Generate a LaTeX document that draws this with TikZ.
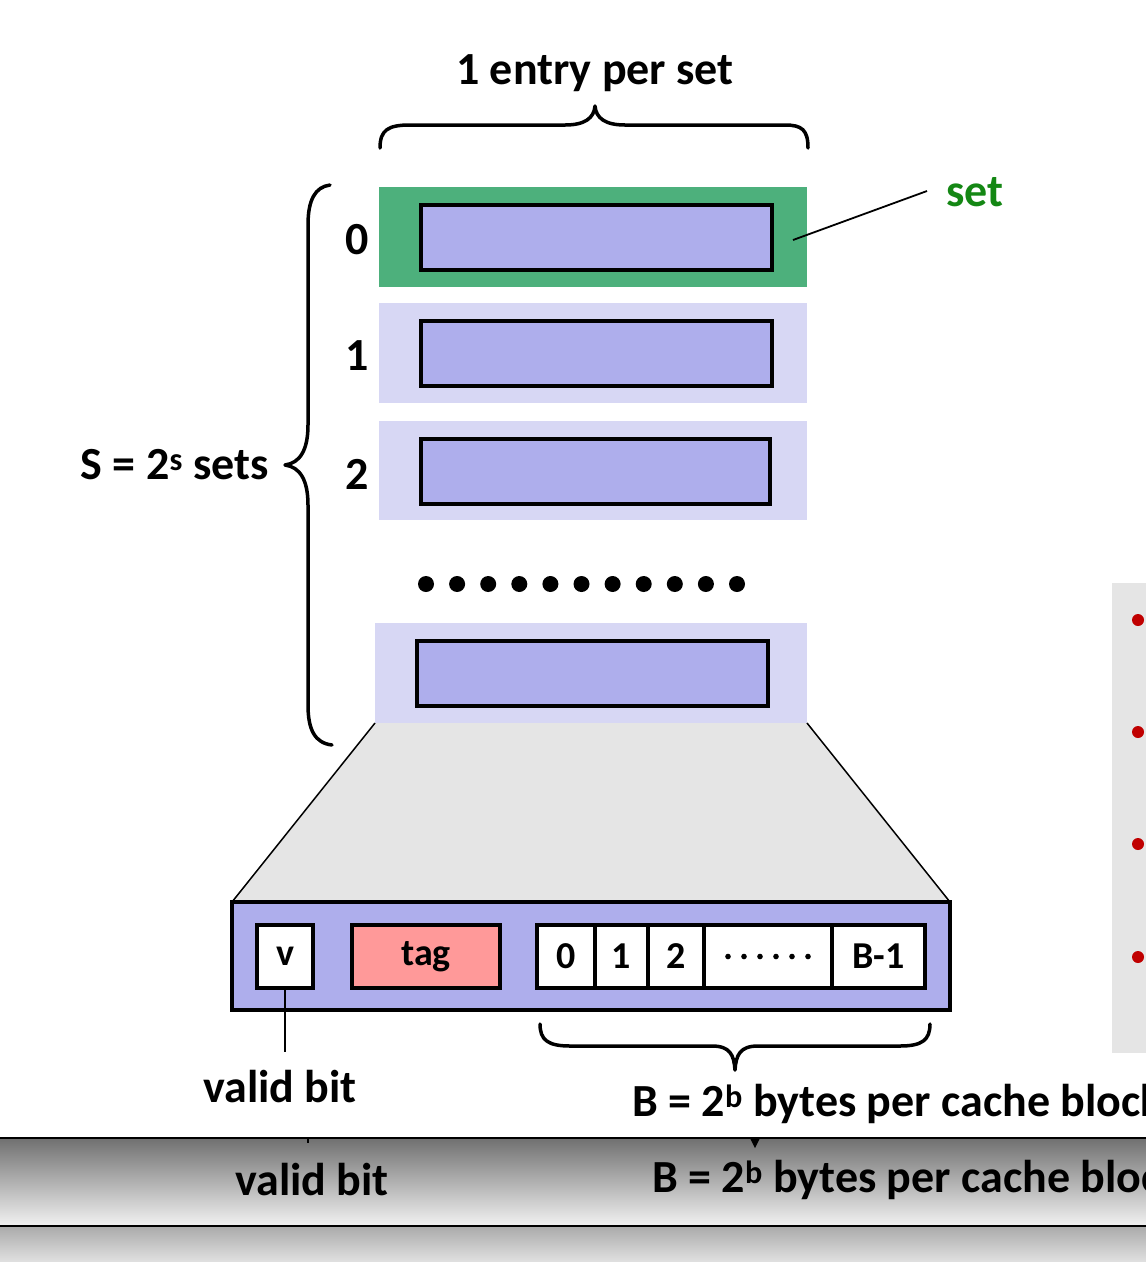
\documentclass[tikz,border=0pt]{standalone}
\usepackage{fontspec}
\setmainfont{Carlito}
\definecolor{setgreen}{RGB}{77,176,124}
\definecolor{lav}{RGB}{174,174,236}
\definecolor{lightlav}{RGB}{215,215,244}
\definecolor{tagred}{RGB}{255,153,153}
\definecolor{labgreen}{RGB}{20,135,20}
\definecolor{dotred}{RGB}{192,0,0}
\definecolor{trap}{RGB}{229,229,229}
\begin{document}
\begin{tikzpicture}[x=1pt,y=-1pt,
  lbl/.style={font=\fontsize{46}{52}\selectfont\bfseries, inner sep=0pt},
  celltxt/.style={font=\fontsize{38}{44}\selectfont\bfseries},
  rowbox/.style={draw=none, inner sep=0pt, minimum width=428pt, minimum height=100pt},
  entry/.style={draw=black, line width=4pt, fill=lav, inner sep=0pt, minimum width=351pt, minimum height=65pt},
  cellbox/.style={draw=black, line width=3.5pt, fill=white, inner sep=0pt, minimum height=63pt, celltxt},
  brc/.style={line width=3.5pt, line cap=round, line join=round}
]
\useasboundingbox (0,0) rectangle (1146,1262);
\clip (0,0) rectangle (1146,1262);

% title and top brace
\node[lbl, anchor=base] (title) at (595,84) {1 entry per set};
\draw[brc] (380,148) .. controls (380,130) and (388,125) .. (410,125) -- (565,125)
  .. controls (585,125) and (594,118) .. (595,106) .. controls (596,118) and (605,125) .. (625,125)
  -- (785,125) .. controls (802,125) and (808,130) .. (808,148);

% rows
\node[rowbox, fill=setgreen] (r0) at (593,237) {};
\node[entry] (e0) at (596.5,237.5) {};
\node[rowbox, fill=lightlav] (r1) at (593,353) {};
\node[entry] (e1) at (596.5,353.5) {};
\node[rowbox, fill=lightlav, minimum height=99pt] (r2) at (593,470.5) {};
\node[entry, minimum width=349pt] (e2) at (595.5,471.5) {};
\node[rowbox, fill=lightlav, minimum width=432pt] (rl) at (591,673) {};
\node[entry] (el) at (592.5,673.5) {};

\node[lbl] (n0) at (357,240) {0};
\node[lbl] (n1) at (357,356) {1};
\node[lbl] (n2) at (357,474) {2};

\foreach \i in {0,...,10} \fill (426+31.1*\i,584) circle (8);

% set label
\node[lbl, text=labgreen] (setlbl) at (975,192) {set};
\coordinate (sa) at (793,240);
\coordinate (sb) at (927,191);
\draw[line width=1.8pt] (sa) -- (sb);

% left brace
\draw[brc] (330,185) .. controls (315,187) and (308,200) .. (308,225) -- (308,425)
  .. controls (308,450) and (300,463) .. (285,465) .. controls (300,467) and (308,480) .. (308,505)
  -- (308,705) .. controls (308,730) and (315,743) .. (332,745);
\node[lbl, anchor=east] (S) at (269,465) {S = 2\textsuperscript{s} sets};

% trapezoid
\fill[trap] (375,723) -- (807,723) -- (950,902) -- (232,902) -- cycle;
\draw[line width=1.5pt] (375,723) -- (232,902);
\draw[line width=1.5pt] (807,723) -- (950,902);

% block
\node[draw=black, line width=4pt, fill=lav, inner sep=0pt, minimum width=718pt, minimum height=108pt] (blk) at (591,956) {};
\node[cellbox, minimum width=56pt] (v) at (285,956.5) {v};
\node[cellbox, minimum width=148pt, fill=tagred] (tag) at (426,956.5) {tag};
\node[cellbox, minimum width=58pt] (b0) at (566,956.5) {0};
\node[cellbox, minimum width=53pt] (b1) at (621.5,956.5) {1};
\node[cellbox, minimum width=56pt] (b2) at (676,956.5) {2};
\node[cellbox, minimum width=128pt] (bd) at (768,956.5) {};
\foreach \i in {0,...,5} \fill (bd.center) ++(-40+16*\i,0) circle (2.8);
\node[cellbox, minimum width=93pt] (bl) at (878.5,956.5) {B-1};

\coordinate (vend) at (285,1052);
\draw[line width=2pt] (v.south) -- (vend);
\node[lbl] (vb) at (280,1087) {valid bit};

% bottom brace
\draw[brc] (540,1024) .. controls (540,1040) and (548,1046) .. (570,1046) -- (712,1046)
  .. controls (730,1046) and (734,1055) .. (735,1070) .. controls (736,1055) and (740,1046) .. (758,1046)
  -- (900,1046) .. controls (922,1046) and (930,1040) .. (930,1024);
\node[lbl, anchor=west] (Bl) at (632,1104) {B = 2\textsuperscript{b} bytes per cache block};

% right panel
\fill[trap] (1112,583) rectangle (1146,1053);
\foreach \yy in {620,732,844,957} \fill[dotred] (1138,\yy) circle (6);

% bottom bands
\shade[top color={rgb,255:red,112;green,112;blue,112}, bottom color={rgb,255:red,242;green,242;blue,242}] (0,1138) rectangle (1146,1226);
\shade[top color={rgb,255:red,170;green,170;blue,170}, bottom color={rgb,255:red,225;green,225;blue,225}] (0,1226) rectangle (1146,1262);
\draw[line width=1.2pt] (0,1138) -- (1146,1138);
\draw[line width=1.2pt] (0,1226) -- (1146,1226);
\draw[line width=1.5pt] (308,1138) -- (308,1143);
\fill (750,1138) -- (760,1138) -- (755,1148) -- cycle;
\node[lbl] (vb2) at (312,1180) {valid bit};
\node[lbl, anchor=west] (Bl2) at (652,1180) {B = 2\textsuperscript{b} bytes per cache block};
\end{tikzpicture}
\end{document}
